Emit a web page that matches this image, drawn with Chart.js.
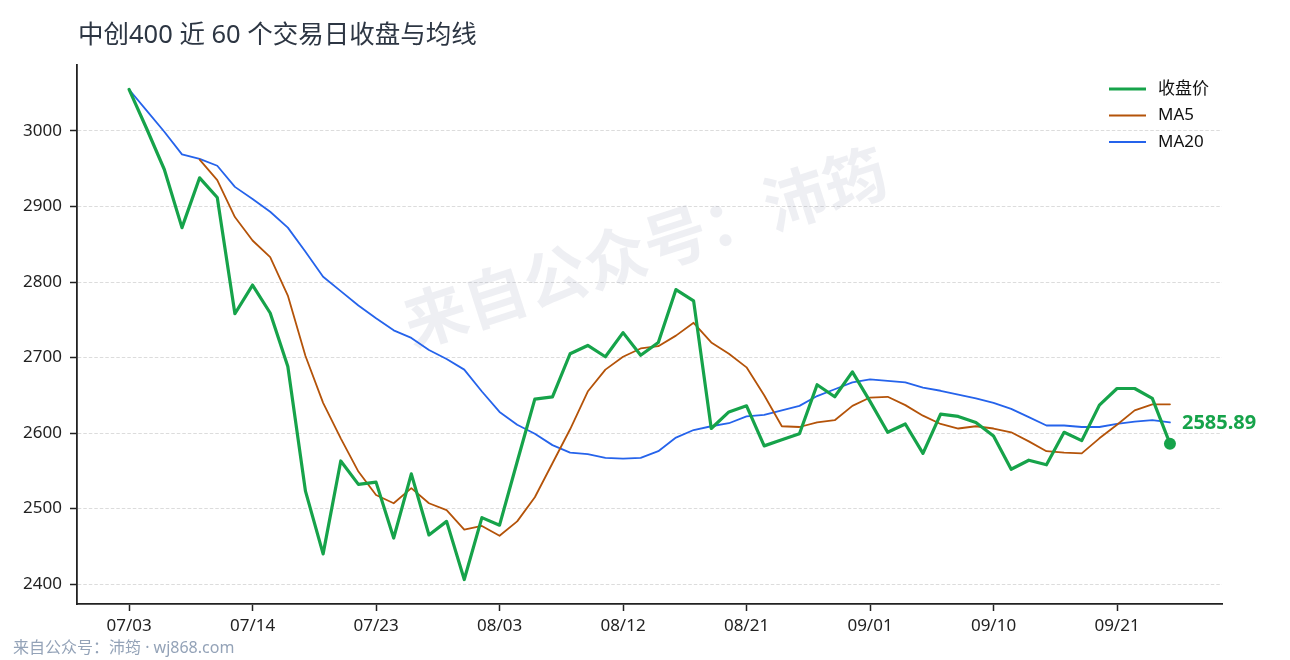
<!DOCTYPE html>
<html>
<head>
<meta charset="utf-8">
<script src="https://cdn.jsdelivr.net/npm/chart.js@4.4.1/dist/chart.umd.min.js"></script>
<style>
  html, body { margin: 0; padding: 0; background: #fff; }
  canvas { display: block; }
</style>
</head>
<body>
<canvas id="c" width="1290" height="660"></canvas>
<script>
// 中创400 近 60 个交易日
const dates = [
  '07/03','07/06','07/07','07/08','07/09','07/10','07/13','07/14','07/15','07/16',
  '07/17','07/20','07/21','07/22','07/23','07/24','07/27','07/28','07/29','07/30',
  '07/31','08/03','08/04','08/05','08/06','08/07','08/10','08/11','08/12','08/13',
  '08/14','08/17','08/18','08/19','08/20','08/21','08/24','08/25','08/26','08/27',
  '08/28','08/31','09/01','09/02','09/03','09/04','09/07','09/08','09/09','09/10',
  '09/11','09/14','09/15','09/16','09/17','09/18','09/21','09/22','09/23','09/24'
];
const closes = [
  3055, 3003, 2949, 2872, 2938, 2912, 2758, 2796, 2759, 2688,
  2523, 2440, 2563, 2532, 2535, 2461, 2546, 2465, 2483, 2406,
  2488, 2478, 2562, 2645, 2648, 2705, 2716, 2701, 2733, 2703,
  2720, 2790, 2775, 2606, 2628, 2636, 2583, 2591, 2599, 2664,
  2648, 2681, 2642, 2601, 2612, 2573, 2625, 2622, 2614, 2596,
  2552, 2564, 2558, 2601, 2590, 2637, 2659, 2659, 2646, 2585.89
];
const ma5 = [
  null, null, null, null, 2962, 2935, 2886, 2855, 2833, 2782,
  2702, 2640, 2593, 2549, 2518, 2507, 2527, 2507, 2498, 2472,
  2477, 2464, 2483, 2515, 2560, 2605, 2655, 2684, 2701, 2712,
  2715, 2729, 2746, 2720, 2705, 2687, 2650, 2609, 2608, 2614,
  2617, 2636, 2647, 2648, 2637, 2623, 2612, 2606, 2609, 2606,
  2601, 2589, 2576, 2574, 2573, 2593, 2611, 2630, 2638, 2638
];
const ma20 = [
  3055, 3027, 2999, 2969, 2963, 2954, 2926, 2910, 2893, 2872,
  2840, 2807, 2788, 2769, 2752, 2736, 2726, 2710, 2698, 2684,
  2655, 2628, 2611, 2599, 2584, 2574, 2572, 2567, 2566, 2567,
  2576, 2594, 2604, 2609, 2613, 2622, 2624, 2630, 2636, 2649,
  2658, 2667, 2671, 2669, 2667, 2660, 2656, 2651, 2646, 2640,
  2632, 2621, 2610, 2610, 2608, 2608, 2612, 2615, 2617, 2614
];
const xTicks = [0, 7, 14, 21, 28, 35, 42, 49, 56];
const yTicks = [2400, 2500, 2600, 2700, 2800, 2900, 3000];

const GREEN = '#16a34a', ORANGE = '#b45309', BLUE = '#2563eb';
const FONT = '"Noto Sans", "Noto Sans CJK SC", sans-serif';

const pts = arr => arr.map((v, i) => ({ x: i, y: v }));
const last = closes.length - 1;

const decor = {
  id: 'decor',
  beforeDatasetsDraw(chart) {
    const ctx = chart.ctx;
    // watermark
    ctx.save();
    ctx.translate(645, 247);
    ctx.rotate(-18 * Math.PI / 180);
    ctx.font = 'bold 63px "Noto Sans CJK SC", sans-serif';
    ctx.fillStyle = 'rgba(120,130,160,0.13)';
    ctx.textAlign = 'center';
    ctx.textBaseline = 'middle';
    ctx.fillText('来自公众号：沛筠', 0, 0);
    ctx.restore();
  },
  afterDatasetsDraw(chart) {
    const ctx = chart.ctx;
    const area = chart.chartArea;
    // end label
    const p = chart.getDatasetMeta(0).data[last];
    ctx.save();
    ctx.font = 'bold 20px ' + FONT;
    ctx.fillStyle = GREEN;
    ctx.textBaseline = 'middle';
    ctx.fillText(closes[last].toFixed(2), p.x + 12, p.y - 20);

    // legend
    const items = [['收盘价', GREEN, 3], ['MA5', ORANGE, 2], ['MA20', BLUE, 2]];
    items.forEach(([txt, col, w], k) => {
      const y = area.top + 24 + k * 26.5;
      ctx.strokeStyle = col;
      ctx.lineWidth = w;
      ctx.beginPath();
      ctx.moveTo(area.right - 113, y);
      ctx.lineTo(area.right - 76, y);
      ctx.stroke();
      ctx.fillStyle = '#111';
      ctx.font = '17px ' + FONT;
      ctx.fillText(txt, area.right - 64, y);
    });

    // title and footer
    ctx.fillStyle = '#2d3643';
    ctx.font = '25.5px ' + FONT;
    ctx.fillText('中创400 近 60 个交易日收盘与均线', 78, 36);
    ctx.fillStyle = '#94a3b8';
    ctx.font = '16px ' + FONT;
    ctx.fillText('来自公众号：沛筠 · wj868.com', 13, 648);
    ctx.restore();
  }
};

new Chart(document.getElementById('c'), {
  type: 'line',
  data: {
    datasets: [
      {
        label: '收盘价', data: pts(closes), borderColor: GREEN, backgroundColor: GREEN,
        borderWidth: 3.2,
        pointRadius: c => c.dataIndex === last ? 6 : 0,
        pointBorderWidth: 0
      },
      { label: 'MA5', data: pts(ma5), borderColor: ORANGE, borderWidth: 1.8, pointRadius: 0 },
      { label: 'MA20', data: pts(ma20), borderColor: BLUE, borderWidth: 1.8, pointRadius: 0 }
    ]
  },
  options: {
    responsive: false,
    animation: false,
    events: [],
    layout: { padding: { top: 65, right: 68, left: 0, bottom: 0 } },
    elements: { line: { tension: 0, borderJoinStyle: 'round', borderCapStyle: 'round' } },
    plugins: { legend: { display: false }, tooltip: { enabled: false } },
    scales: {
      x: {
        type: 'linear',
        min: -2.95, max: 61.95,
        afterBuildTicks: s => { s.ticks = xTicks.map(v => ({ value: v })); },
        afterFit: s => { s.height = 56; },
        ticks: {
          autoSkip: false, maxRotation: 0, padding: 5,
          color: '#222', font: { family: FONT, size: 17 },
          callback: v => dates[v]
        },
        grid: { drawOnChartArea: false, drawTicks: true, tickLength: 7, tickColor: '#222', tickWidth: 1.5 },
        border: { color: '#222', width: 1.8 }
      },
      y: {
        min: 2373.6, max: 3087.4,
        afterBuildTicks: s => { s.ticks = yTicks.map(v => ({ value: v })); },
        afterFit: s => { s.width = 77; },
        ticks: { padding: 8, color: '#222', font: { family: FONT, size: 17 }, callback: v => String(v) },
        grid: { color: '#dcdcdc', lineWidth: 1, tickLength: 7, tickColor: '#222', tickWidth: 1.5 },
        border: { color: '#222', width: 1.8, dash: [3.5, 2] }
      }
    }
  },
  plugins: [decor]
});
</script>
</body>
</html>
